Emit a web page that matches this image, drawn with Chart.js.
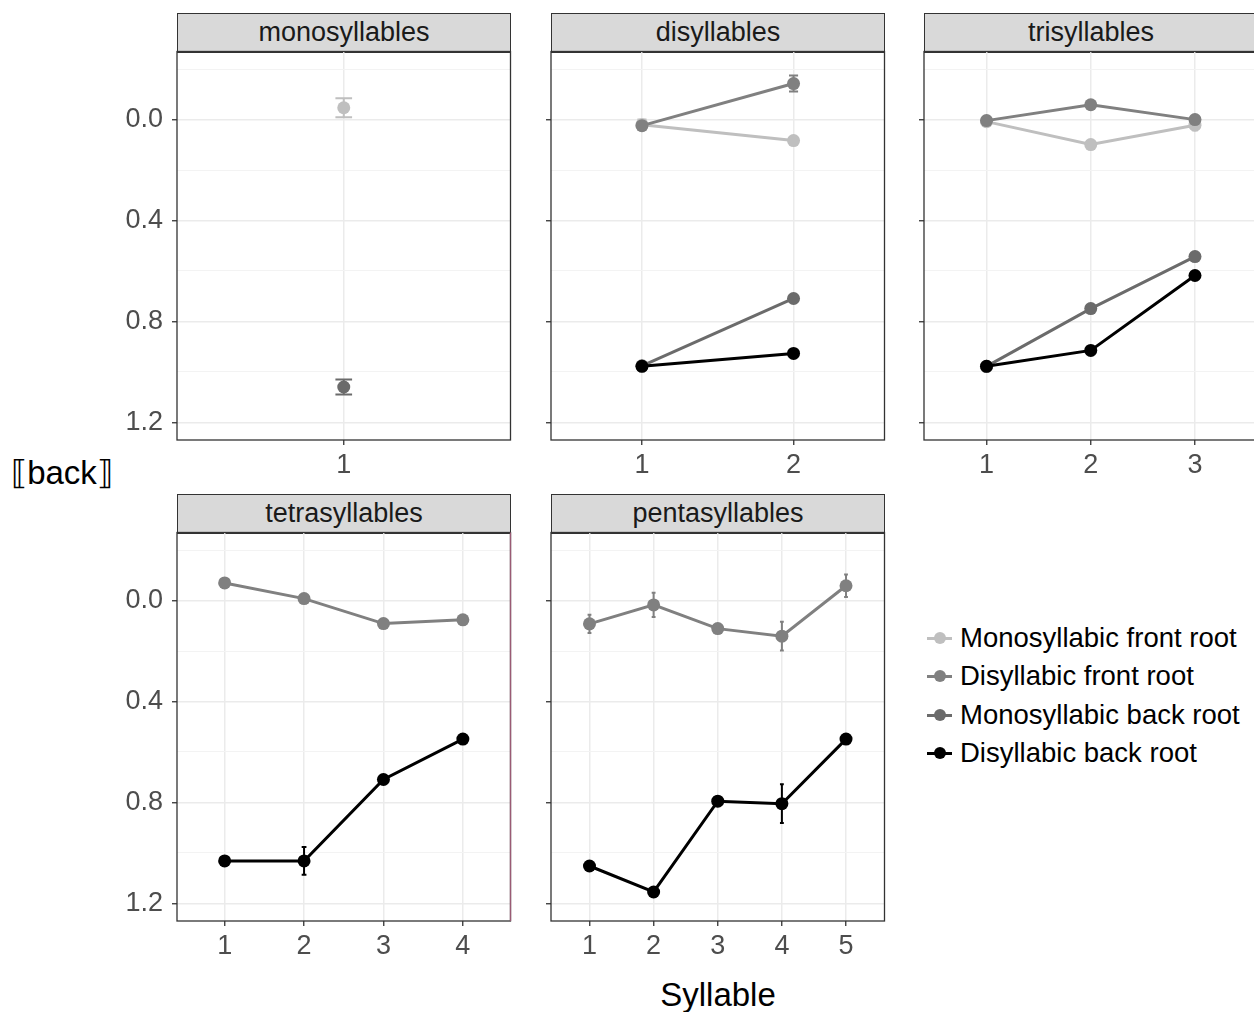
<!DOCTYPE html>
<html>
<head>
<meta charset="utf-8">
<title>[back] by syllable</title>
<script src="https://cdn.jsdelivr.net/npm/chart.js@4.4.1/dist/chart.umd.min.js"></script>
<style>
    html, body { margin: 0; padding: 0; background: #fff; width: 1254px; height: 1012px; overflow: hidden; }
    body { position: relative; font-family: 'Liberation Sans', Arial, sans-serif; }
    canvas { position: absolute; }
    .strip { position: absolute; box-sizing: border-box; background: #d9d9d9; border: 1.3px solid #333; color: #1a1a1a; font-size: 27px; text-align: center; line-height: 37px; }
    .title { position: absolute; font-size: 33px; color: #000; text-align: center; line-height: 40px; }
    .legend-row { position: absolute; left: 927px; height: 38px; font-size: 27.5px; line-height: 38px; color: #000; white-space: nowrap; }
    .legend-row .key { position: absolute; left: 0; top: 0; width: 25px; height: 38px; }
    .legend-row .key i { position: absolute; left: 0; top: 17.5px; width: 25px; height: 3px; }
    .legend-row .key b { position: absolute; left: 6.5px; top: 13px; width: 12px; height: 12px; border-radius: 50%; }
    .legend-row span { position: absolute; left: 33px; top: 0; }
</style>
</head>
<body>
<div class="title" style="left:618px; top:975px; width:200px;">Syllable</div>
<div class="title" style="left:0px; top:453px; width:124px;">⟦back⟧</div>
<script>
// facets and series
const panelNames = ["monosyllables", "disyllables", "trisyllables", "tetrasyllables", "pentasyllables"];
const syllableCounts = [1, 2, 3, 4, 5];
const seriesNames = ["Monosyllabic front root", "Disyllabic front root", "Monosyllabic back root", "Disyllabic back root"];
const seriesColors = ["#bfbfbf", "#808080", "#6b6b6b", "#000000"];

// y axis ticks (reversed axis), major ones get labels
const yTickValues = [-0.2, 0.0, 0.2, 0.4, 0.6, 0.8, 1.0, 1.2];
const yMajorTicks = [0.0, 0.4, 0.8, 1.2];
const yRange = [-0.27, 1.27];

// means per panel (null = series not in that panel)
const monoFrontMeans = [[-0.047], [0.02, 0.083], [0.008, 0.099, 0.022], null, null];
const diFrontMeans = [null, [0.024, -0.143], [0.004, -0.059, 0.0], [-0.07, -0.008, 0.091, 0.076], [0.092, 0.017, 0.111, 0.141, -0.059]];
const monoBackMeans = [[1.06], [0.976, 0.709], [0.978, 0.749, 0.543], null, null];
const diBackMeans = [null, [0.978, 0.927], [0.978, 0.915, 0.618], [1.032, 1.032, 0.709, 0.549], [1.052, 1.155, 0.795, 0.805, 0.549]];

// error bar half widths
const monoFrontErrors = [[0.038], [0.02, 0.01], [0.01, 0.01, 0.02], null, null];
const diFrontErrors = [null, [0.01, 0.032], [0.01, 0.01, 0.015], [0.02, 0.01, 0.01, 0.01], [0.036, 0.048, 0.01, 0.057, 0.045]];
const monoBackErrors = [[0.03], [0.01, 0.01], [0.01, 0.01, 0.01], null, null];
const diBackErrors = [null, [0.01, 0.01], [0.01, 0.01, 0.01], [0.01, 0.055, 0.01, 0.01], [0.01, 0.02, 0.01, 0.077, 0.01]];

const seriesMeans = [monoFrontMeans, diFrontMeans, monoBackMeans, diBackMeans];
const seriesErrors = [monoFrontErrors, diFrontErrors, monoBackErrors, diBackErrors];

// layout
const panelLefts = [177, 551, 924, 177, 551];
const panelTops = [52, 52, 52, 533, 533];
const panelW = 333, panelH = 388, yAxisW = 60, xAxisH = 50, stripH = 40;
const edge = 7; // room above / right of the plot area inside each canvas

Chart.defaults.font.family = "'Liberation Sans', Arial, sans-serif";
Chart.defaults.font.size = 27;

const isMajor = v => yMajorTicks.some(m => Math.abs(m - v) < 1e-6);

// drop the label overhang padding so the plot area sits exactly where we put it
const fixBox = (scale, size) => {
    if (scale.isHorizontal()) scale.height = size; else scale.width = size;
    scale.paddingTop = 0;
    scale.paddingBottom = 0;
    scale.paddingLeft = 0;
    scale.paddingRight = 0;
};

const errorBars = {
    id: "errorBars",
    beforeDatasetsDraw(chart) {
        const { ctx, scales: { x, y } } = chart;
        ctx.save();
        chart.data.datasets.forEach(ds => {
            ds.data.forEach((pt, i) => {
                const e = ds.errorBars[i];
                const px = x.getPixelForValue(pt.x);
                const cap = x.getPixelForValue(pt.x + 0.03) - px;
                const top = y.getPixelForValue(pt.y - e);
                const bot = y.getPixelForValue(pt.y + e);
                ctx.strokeStyle = ds.borderColor;
                ctx.lineWidth = 2;
                ctx.beginPath();
                ctx.moveTo(px, top); ctx.lineTo(px, bot);
                ctx.moveTo(px - cap, top); ctx.lineTo(px + cap, top);
                ctx.moveTo(px - cap, bot); ctx.lineTo(px + cap, bot);
                ctx.stroke();
            });
        });
        ctx.restore();
    }
};

const panelBorder = {
    id: "panelBorder",
    afterDraw(chart, args, opts) {
        const { ctx, chartArea: a } = chart;
        console.log("chartArea", JSON.stringify(a));
        ctx.save();
        ctx.strokeStyle = "#333333";
        ctx.lineWidth = 1.3;
        ctx.strokeRect(a.left, a.top, a.right - a.left, a.bottom - a.top);
        if (opts.rightColor) {
            ctx.strokeStyle = opts.rightColor;
            ctx.beginPath();
            ctx.moveTo(a.right, a.top); ctx.lineTo(a.right, a.bottom);
            ctx.stroke();
        }
        ctx.restore();
    }
};

panelNames.forEach((name, p) => {
    const n = syllableCounts[p];
    const left = panelLefts[p], top = panelTops[p];
    const showYLabels = left === 177;

    const strip = document.createElement("div");
    strip.className = "strip";
    strip.style.left = left + "px";
    strip.style.top = (top - stripH + 1) + "px";
    strip.style.width = (panelW + 1) + "px";
    strip.style.height = stripH + "px";
    strip.textContent = name;
    document.body.appendChild(strip);

    const canvas = document.createElement("canvas");
    canvas.width = yAxisW + panelW + edge;
    canvas.height = edge + panelH + xAxisH;
    canvas.style.left = (left - yAxisW) + "px";
    canvas.style.top = (top - edge) + "px";
    document.body.appendChild(canvas);

    const datasets = [];
    [3, 2, 1, 0].forEach(s => {
        const means = seriesMeans[s][p];
        if (!means) return;
        datasets.push({
            label: seriesNames[s],
            data: means.map((v, i) => ({ x: i + 1, y: v })),
            errorBars: seriesErrors[s][p],
            borderColor: seriesColors[s],
            backgroundColor: seriesColors[s],
            borderWidth: 3,
            pointRadius: 6.5,
            pointHoverRadius: 6.5,
            pointBorderWidth: 0,
            tension: 0
        });
    });

    const xTicks = syllableCounts.slice(0, n);

    new Chart(canvas, {
        type: "line",
        data: { datasets },
        plugins: [errorBars, panelBorder],
        options: {
            responsive: false,
            animation: false,
            devicePixelRatio: 1,
            events: [],
            layout: { padding: { top: 2, right: 2, left: 0, bottom: 0 } },
            plugins: {
                legend: { display: false },
                tooltip: { enabled: false },
                panelBorder: { rightColor: name === "tetrasyllables" ? "#9a5a74" : null }
            },
            scales: {
                x: {
                    type: "linear",
                    min: 0.4,
                    max: n + 0.6,
                    afterBuildTicks: scale => { scale.ticks = xTicks.map(v => ({ value: v })); },
                    afterFit: scale => fixBox(scale, xAxisH),
                    grid: { color: "#ebebeb", lineWidth: 1.5, tickColor: "#333333", tickLength: 5, tickWidth: 1.3 },
                    border: { display: false },
                    ticks: { color: "#4d4d4d", padding: 4, maxRotation: 0, autoSkip: false, callback: v => String(v) }
                },
                y: {
                    type: "linear",
                    reverse: true,
                    min: yRange[0],
                    max: yRange[1],
                    afterBuildTicks: scale => { scale.ticks = yTickValues.map(v => ({ value: v })); },
                    afterFit: scale => fixBox(scale, yAxisW),
                    grid: {
                        color: ctx => isMajor(ctx.tick.value) ? "#ebebeb" : "#f3f3f3",
                        lineWidth: ctx => isMajor(ctx.tick.value) ? 1.5 : 1,
                        tickColor: ctx => isMajor(ctx.tick.value) ? "#333333" : "rgba(0,0,0,0)",
                        tickLength: 5,
                        tickWidth: 1.3
                    },
                    border: { display: false },
                    ticks: {
                        color: "#4d4d4d",
                        padding: 9,
                        autoSkip: false,
                        callback: v => (showYLabels && isMajor(v)) ? v.toFixed(1) : ""
                    }
                }
            }
        }
    });
});

// legend
const legendRowCenters = [638, 676, 715, 753];
seriesNames.forEach((label, s) => {
    const row = document.createElement("div");
    row.className = "legend-row";
    row.style.top = (legendRowCenters[s] - 19) + "px";
    row.innerHTML = `<div class="key"><i style="background:${seriesColors[s]}"></i><b style="background:${seriesColors[s]}"></b></div><span>${label}</span>`;
    document.body.appendChild(row);
});
</script>
</body>
</html>
